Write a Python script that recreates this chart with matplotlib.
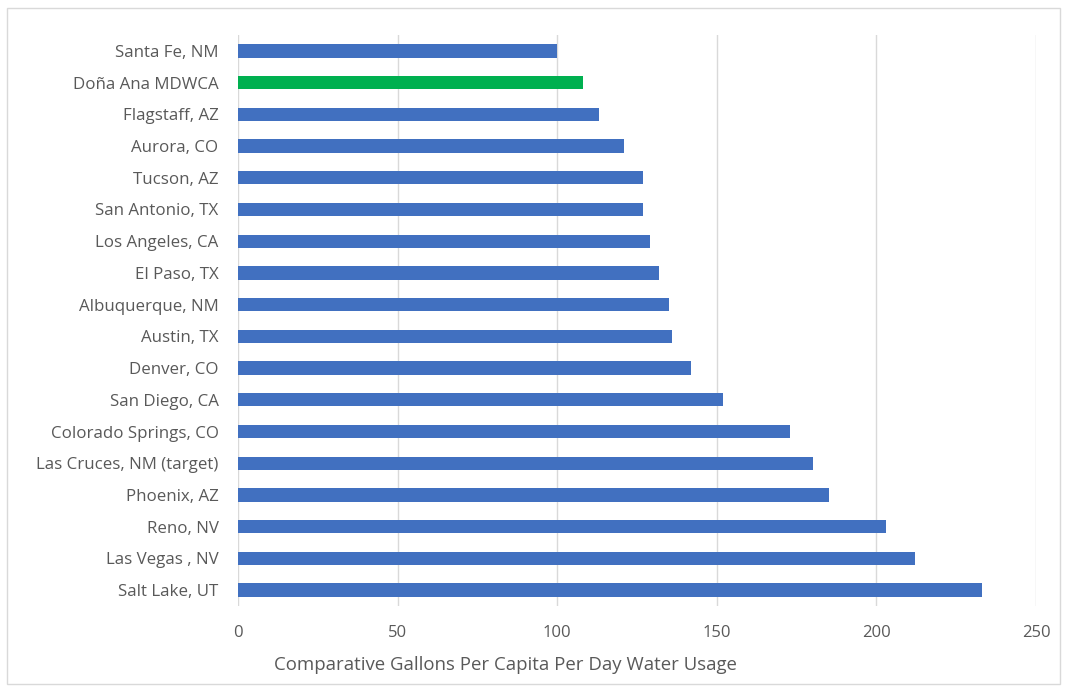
import matplotlib
matplotlib.use("Agg")
import matplotlib.pyplot as plt
from matplotlib.patches import Rectangle

cities = ["Santa Fe, NM", "Doña Ana MDWCA", "Flagstaff, AZ", "Aurora, CO", "Tucson, AZ",
          "San Antonio, TX", "Los Angeles, CA", "El Paso, TX", "Albuquerque, NM", "Austin, TX",
          "Denver, CO", "San Diego, CA", "Colorado Springs, CO", "Las Cruces, NM (target)",
          "Phoenix, AZ", "Reno, NV", "Las Vegas , NV", "Salt Lake, UT"]
gpcd = [100, 108, 113, 121, 127, 127, 129, 132, 135, 136, 142, 152, 173, 180, 185, 203, 212, 233]
highlight = "Doña Ana MDWCA"
x_ticks = [0, 50, 100, 150, 200, 250]
x_label = "Comparative Gallons Per Capita Per Day Water Usage"

plt.rcParams['font.family'] = ['Open Sans', 'DejaVu Sans']
text_col = "#595959"

fig = plt.figure(figsize=(10.74, 6.87), dpi=100)
fig.patches.append(Rectangle((7/1074, 1-684/687), 1053/1074, 676/687, transform=fig.transFigure,
                             fill=False, edgecolor="#d9d9d9", linewidth=1.0))
ax = fig.add_axes([238/1074, 1-606/687, (1036-238)/1074, (606-35)/687])

colors = ["#00b050" if c == highlight else "#4170c0" for c in cities]
ypos = list(range(len(cities)))
ax.barh(ypos, gpcd, height=0.42, color=colors, zorder=3)
ax.set_ylim(len(cities) - 0.5, -0.5)
ax.set_xlim(0, 250)
ax.set_yticks(ypos)
ax.set_yticklabels(cities, fontsize=12.2, color=text_col)
ax.set_xticks(x_ticks)
ax.set_xticklabels([str(t) for t in x_ticks], fontsize=12, color=text_col)
ax.tick_params(axis='both', length=0)
ax.tick_params(axis='y', pad=14)
ax.tick_params(axis='x', pad=14)
ax.grid(axis='x', color="#d9d9d9", linewidth=1.0, zorder=0)
for s in ax.spines.values():
    s.set_visible(False)

fig.text(505/1074, 1-665/687, x_label, fontsize=13.4, color=text_col, ha='center', va='center')

fig.savefig("out.png", dpi=100)
